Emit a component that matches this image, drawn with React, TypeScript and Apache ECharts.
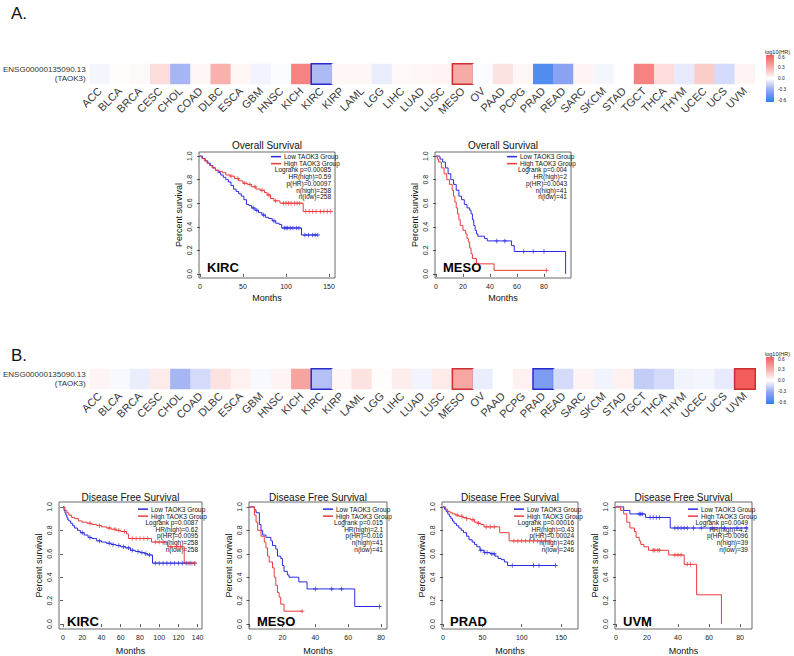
import React, { useEffect, useRef } from 'react';
import * as echarts from 'echarts';

const FONT = 'Liberation Sans, Arial, Helvetica, sans-serif';
const BLUE = '#2a2ae0';
const RED = '#ec3b3b';

// ---------- Heatmap data ----------
const cancers = ['ACC', 'BLCA', 'BRCA', 'CESC', 'CHOL', 'COAD', 'DLBC', 'ESCA', 'GBM', 'HNSC', 'KICH', 'KIRC', 'KIRP', 'LAML', 'LGG', 'LIHC', 'LUAD', 'LUSC', 'MESO', 'OV', 'PAAD', 'PCPG', 'PRAD', 'READ', 'SARC', 'SKCM', 'STAD', 'TGCT', 'THCA', 'THYM', 'UCEC', 'UCS', 'UVM'];
const geneLabel = ['ENSG00000135090.13\n(TAOK3)'];
const osLogHR = [-0.03, 0.01, 0.02, 0.12, -0.25, 0.03, 0.28, 0.03, -0.04, -0.01, 0.45, -0.23, 0.03, 0.03, -0.06, 0.02, 0.03, 0.04, 0.30, -0.01, 0.1, 0.03, -0.5, -0.33, 0.04, -0.03, 0.0, 0.45, 0.12, -0.07, 0.18, -0.12, 0.04];
const dfsLogHR = [0.04, -0.02, -0.06, 0.07, -0.25, -0.12, 0.10, 0.05, -0.02, 0.04, 0.33, -0.21, 0.03, 0.1, 0.01, 0.06, -0.04, 0.07, 0.32, -0.06, 0.0, 0.05, -0.37, -0.12, 0.04, -0.04, 0.05, -0.17, -0.12, -0.04, -0.03, -0.07, 0.62];
const osHighlighted = ['KIRC', 'MESO'];
const dfsHighlighted = ['KIRC', 'MESO', 'PRAD', 'UVM'];
const colorBarTicks = [0.6, 0.3, 0.0, -0.3, -0.6];

// ---------- Survival axes ----------
const survTicks = [0, 0.2, 0.4, 0.6, 0.8, 1.0];
const monthsTicks150 = [0, 50, 100, 150];
const monthsTicks80 = [0, 20, 40, 60, 80];
const monthsTicks140 = [0, 20, 40, 60, 80, 100, 120, 140];

// ---------- KM: KIRC overall survival ----------
const osKircLowTimes = [3, 6, 9, 12, 15, 18, 21, 24, 27, 30, 33, 36, 39, 42, 45, 48, 51, 54, 57, 60, 64, 68, 72, 76, 80, 84, 88, 92, 95, 118];
const osKircLowSurv = [0.98, 0.96, 0.94, 0.92, 0.9, 0.88, 0.86, 0.84, 0.82, 0.8, 0.78, 0.75, 0.72, 0.7, 0.68, 0.66, 0.63, 0.59, 0.58, 0.56, 0.54, 0.52, 0.5, 0.48, 0.47, 0.45, 0.43, 0.42, 0.39, 0.33];
const osKircLowCensor = [62, 66, 74, 86, 98, 100, 102, 105, 108, 112, 115, 122, 126, 131, 134, 137];
const osKircHighTimes = [2, 5, 8, 11, 14, 18, 22, 26, 30, 35, 40, 45, 50, 55, 60, 65, 70, 75, 78, 82, 86, 93, 120];
const osKircHighSurv = [0.98, 0.96, 0.94, 0.92, 0.9, 0.88, 0.87, 0.86, 0.84, 0.83, 0.81, 0.79, 0.77, 0.76, 0.74, 0.72, 0.71, 0.69, 0.67, 0.64, 0.62, 0.6, 0.53];
const osKircHighCensor = [36, 44, 52, 58, 64, 72, 80, 88, 97, 100, 103, 106, 110, 113, 116, 123, 127, 131, 135, 140, 144, 148, 152];
const osKircStats = ['Logrank p=0.00085', 'HR(high)=0.59', 'p(HR)=0.00097', 'n(high)=258', 'n(low)=258'];

// ---------- KM: MESO overall survival ----------
const osMesoLowTimes = [3, 5, 7, 9, 11, 13, 15, 17, 19, 21, 23, 25, 26, 27, 28, 29, 30, 31, 36, 38, 56, 58, 96];
const osMesoLowSurv = [0.975, 0.95, 0.9, 0.85, 0.8, 0.76, 0.71, 0.66, 0.63, 0.59, 0.56, 0.54, 0.51, 0.46, 0.41, 0.37, 0.34, 0.32, 0.3, 0.28, 0.24, 0.19, 0.0];
const osMesoLowCensor = [45, 51, 65, 72, 80];
const osMesoHighTimes = [1, 2, 4, 6, 8, 10, 12, 13, 14, 15, 16, 17, 18, 20, 22, 23, 24, 25, 26, 27, 30, 43];
const osMesoHighSurv = [0.975, 0.95, 0.9, 0.85, 0.8, 0.76, 0.71, 0.66, 0.61, 0.56, 0.51, 0.46, 0.41, 0.37, 0.34, 0.3, 0.27, 0.22, 0.17, 0.13, 0.085, 0.03];
const osMesoHighCensor = [82];
const osMesoStats = ['Logrank p=0.004', 'HR(high)=2', 'p(HR)=0.0043', 'n(high)=41', 'n(low)=41'];

// ---------- KM: KIRC disease free survival ----------
const dfsKircLowTimes = [1, 2, 3, 4, 5, 6, 8, 10, 12, 15, 18, 22, 26, 30, 35, 40, 45, 50, 55, 60, 65, 70, 75, 80, 85, 88, 93];
const dfsKircLowSurv = [0.97, 0.95, 0.93, 0.91, 0.89, 0.88, 0.86, 0.84, 0.82, 0.8, 0.78, 0.76, 0.74, 0.73, 0.71, 0.7, 0.69, 0.68, 0.67, 0.66, 0.65, 0.63, 0.62, 0.61, 0.6, 0.59, 0.52];
const dfsKircLowCensor = [20, 28, 38, 48, 52, 58, 63, 68, 72, 78, 82, 86, 90, 96, 100, 104, 108, 112, 116, 120, 124, 128, 132, 137];
const dfsKircHighTimes = [2, 4, 6, 9, 12, 16, 20, 25, 30, 35, 40, 45, 50, 55, 60, 66, 68, 92, 109, 126];
const dfsKircHighSurv = [0.97, 0.95, 0.93, 0.91, 0.9, 0.88, 0.87, 0.86, 0.85, 0.84, 0.83, 0.82, 0.81, 0.8, 0.79, 0.77, 0.73, 0.7, 0.66, 0.52];
const dfsKircHighCensor = [28, 38, 48, 54, 58, 64, 72, 76, 80, 84, 88, 96, 100, 104, 112, 118, 122, 130, 134, 137];
const dfsKircStats = ['Logrank p=0.0087', 'HR(high)=0.62', 'p(HR)=0.0095', 'n(high)=258', 'n(low)=258'];

// ---------- KM: MESO disease free survival ----------
const dfsMesoLowTimes = [3, 4, 6, 7, 8, 10, 13, 14, 16, 17, 19, 20, 21, 23, 24, 30, 35, 64];
const dfsMesoLowSurv = [0.975, 0.95, 0.85, 0.8, 0.76, 0.74, 0.71, 0.67, 0.64, 0.58, 0.56, 0.5, 0.45, 0.42, 0.4, 0.36, 0.3, 0.15];
const dfsMesoLowCensor = [40, 50, 56, 79];
const dfsMesoHighTimes = [3, 4, 5, 7, 9, 10, 11, 12, 14, 15, 16, 17, 18, 19, 21];
const dfsMesoHighSurv = [0.93, 0.87, 0.8, 0.75, 0.7, 0.65, 0.58, 0.53, 0.48, 0.4, 0.33, 0.27, 0.23, 0.17, 0.11];
const dfsMesoHighCensor = [32];
const dfsMesoStats = ['Logrank p=0.015', 'HR(high)=2.1', 'p(HR)=0.016', 'n(high)=41', 'n(low)=41'];

// ---------- KM: PRAD disease free survival ----------
const dfsPradLowTimes = [2, 4, 6, 8, 10, 12, 14, 17, 20, 23, 26, 30, 33, 37, 40, 43, 47, 52, 60, 66, 70, 74, 78, 82];
const dfsPradLowSurv = [0.98, 0.96, 0.94, 0.92, 0.9, 0.88, 0.86, 0.84, 0.82, 0.8, 0.78, 0.75, 0.72, 0.7, 0.68, 0.66, 0.63, 0.61, 0.6, 0.58, 0.56, 0.55, 0.53, 0.5];
const dfsPradLowCensor = [48, 53, 56, 62, 65, 88, 115, 122, 143];
const dfsPradHighTimes = [3, 6, 9, 12, 16, 20, 25, 30, 35, 40, 44, 48, 52, 72, 84];
const dfsPradHighSurv = [0.98, 0.96, 0.95, 0.94, 0.93, 0.92, 0.91, 0.9, 0.89, 0.87, 0.86, 0.85, 0.83, 0.78, 0.71];
const dfsPradHighCensor = [18, 24, 30, 38, 45, 55, 60, 65, 90, 95, 100, 105, 110, 115, 120, 125, 130, 136];
const dfsPradStats = ['Logrank p=0.00016', 'HR(high)=0.43', 'p(HR)=0.00024', 'n(high)=246', 'n(low)=246'];

// ---------- KM: UVM disease free survival ----------
const dfsUvmLowTimes = [5, 9, 19, 35];
const dfsUvmLowSurv = [0.97, 0.94, 0.91, 0.82];
const dfsUvmLowCensor = [15, 16, 17, 22, 24, 26, 28, 38, 40, 42, 44, 46, 50, 55, 62, 70, 78, 84];
const dfsUvmHighTimes = [3, 5, 7, 9, 12, 13, 15, 16, 18, 21, 34, 44, 52, 68];
const dfsUvmHighSurv = [0.97, 0.94, 0.87, 0.82, 0.79, 0.74, 0.71, 0.68, 0.66, 0.63, 0.59, 0.51, 0.25, 0.0];
const dfsUvmHighCensor = [24, 25, 27, 28, 38, 40, 42, 46, 48];
const dfsUvmStats = ['Logrank p=0.0049', 'HR(high)=4.2', 'p(HR)=0.0096', 'n(high)=39', 'n(low)=39'];

const groupNames = ['Low TAOK3 Group', 'High TAOK3 Group'];

// ---------- helpers ----------
function lastOf(a: number[]) { return a.length ? a[a.length - 1] : 0; }
function stepPoints(times: number[], surv: number[], censor: number[]) {
  const pts: number[][] = [[0, 1]];
  let prev = 1;
  times.forEach((t, i) => { pts.push([t, prev]); pts.push([t, surv[i]]); prev = surv[i]; });
  const end = Math.max(lastOf(times), lastOf(censor));
  if (end > lastOf(times)) pts.push([end, prev]);
  return pts;
}
function survAt(times: number[], surv: number[], t: number) {
  let s = 1;
  for (let i = 0; i < times.length; i++) if (times[i] <= t) s = surv[i];
  return s;
}
const PLUS = 'path://M4,0H6V4H10V6H6V10H4V6H0V4H4Z';

type Curve = { times: number[]; surv: number[]; censor: number[] };
type KM = {
  grid: { left: number; top: number; width: number; height: number };
  xRange: number[]; xTicks: number[]; yRange: number[];
  title: string; tag: string; stats: string[];
  low: Curve; high: Curve; first: number; titleOff: number; nameGapX: number;
};

const kmPlots: KM[] = [
  { grid: { left: 199, top: 152, width: 136, height: 126 }, xRange: [-1.2, 157], xTicks: monthsTicks150, yRange: [-0.035, 1.035],
    title: 'Overall Survival', tag: 'KIRC', stats: osKircStats, first: 4.5, titleOff: 7, nameGapX: 15,
    low: { times: osKircLowTimes, surv: osKircLowSurv, censor: osKircLowCensor },
    high: { times: osKircHighTimes, surv: osKircHighSurv, censor: osKircHighCensor } },
  { grid: { left: 435, top: 152, width: 136, height: 126 }, xRange: [-0.7, 100], xTicks: monthsTicks80, yRange: [-0.035, 1.035],
    title: 'Overall Survival', tag: 'MESO', stats: osMesoStats, first: 4.5, titleOff: 7, nameGapX: 15,
    low: { times: osMesoLowTimes, surv: osMesoLowSurv, censor: osMesoLowCensor },
    high: { times: osMesoHighTimes, surv: osMesoHighSurv, censor: osMesoHighCensor } },
  { grid: { left: 59, top: 502, width: 143, height: 130 }, xRange: [-4.2, 144.5], xTicks: monthsTicks140, yRange: [-0.042, 1.042],
    title: 'Disease Free Survival', tag: 'KIRC', stats: dfsKircStats, first: 7, titleOff: 5, nameGapX: 17,
    low: { times: dfsKircLowTimes, surv: dfsKircLowSurv, censor: dfsKircLowCensor },
    high: { times: dfsKircHighTimes, surv: dfsKircHighSurv, censor: dfsKircHighCensor } },
  { grid: { left: 249, top: 502, width: 138, height: 130 }, xRange: [-0.3, 83.6], xTicks: monthsTicks80, yRange: [-0.042, 1.042],
    title: 'Disease Free Survival', tag: 'MESO', stats: dfsMesoStats, first: 7, titleOff: 5, nameGapX: 17,
    low: { times: dfsMesoLowTimes, surv: dfsMesoLowSurv, censor: dfsMesoLowCensor },
    high: { times: dfsMesoHighTimes, surv: dfsMesoHighSurv, censor: dfsMesoHighCensor } },
  { grid: { left: 442, top: 502, width: 136, height: 130 }, xRange: [-1.3, 171.5], xTicks: monthsTicks150, yRange: [-0.042, 1.042],
    title: 'Disease Free Survival', tag: 'PRAD', stats: dfsPradStats, first: 7, titleOff: 5, nameGapX: 17,
    low: { times: dfsPradLowTimes, surv: dfsPradLowSurv, censor: dfsPradLowCensor },
    high: { times: dfsPradHighTimes, surv: dfsPradHighSurv, censor: dfsPradHighCensor } },
  { grid: { left: 615, top: 502, width: 137, height: 130 }, xRange: [-0.6, 87.7], xTicks: monthsTicks80, yRange: [-0.042, 1.042],
    title: 'Disease Free Survival', tag: 'UVM', stats: dfsUvmStats, first: 7, titleOff: 5, nameGapX: 17,
    low: { times: dfsUvmLowTimes, surv: dfsUvmLowSurv, censor: dfsUvmLowCensor },
    high: { times: dfsUvmHighTimes, surv: dfsUvmHighSurv, censor: dfsUvmHighCensor } },
];

function buildOption() {
  const heatGrids = [
    { left: 81, top: 64, width: 674, height: 20 },
    { left: 81, top: 369, width: 674, height: 20 },
  ];
  const grids: any[] = heatGrids.map((g) => ({ ...g, show: false }));
  const xAxes: any[] = [];
  const yAxes: any[] = [];
  const series: any[] = [];
  const legends: any[] = [];
  const graphics: any[] = [];

  [0, 1].forEach((gi) => {
    xAxes.push({
      gridIndex: gi, type: 'category', data: cancers,
      axisLine: { show: false }, axisTick: { show: false }, splitLine: { show: false },
      axisLabel: { rotate: 45, interval: 0, fontSize: 11, color: '#3a3a3a', margin: 5, fontFamily: FONT },
    });
    yAxes.push({
      gridIndex: gi, type: 'category', data: geneLabel,
      axisLine: { show: false }, axisTick: { show: false }, splitLine: { show: false },
      axisLabel: { fontSize: 8, lineHeight: 9, color: '#333', margin: 4, align: 'right', fontFamily: FONT },
    });
  });

  const heatSets = [
    { vals: osLogHR, hl: osHighlighted },
    { vals: dfsLogHR, hl: dfsHighlighted },
  ];
  heatSets.forEach((hs, gi) => {
    series.push({
      type: 'heatmap', xAxisIndex: gi, yAxisIndex: gi, silent: true,
      data: cancers.map((c, i) => {
        const v = hs.vals[i];
        const item: any = { value: [i, 0, v] };
        if (hs.hl.includes(c)) item.itemStyle = { borderColor: v < 0 ? '#2a2acc' : '#cc2f2f', borderWidth: 1.5 };
        return item;
      }),
    });
  });

  kmPlots.forEach((p, k) => {
    const gi = 2 + k;
    grids.push({ ...p.grid, show: true, borderColor: '#444', borderWidth: 0.8, backgroundColor: 'transparent' });
    xAxes.push({
      gridIndex: gi, type: 'value', min: p.xRange[0], max: p.xRange[1],
      axisLine: { show: false }, splitLine: { show: false },
      axisTick: { show: true, length: 3, lineStyle: { color: '#333', width: 0.8 }, customValues: p.xTicks },
      axisLabel: { fontSize: 7, color: '#222', margin: 5, customValues: p.xTicks, fontFamily: FONT },
      name: 'Months', nameLocation: 'middle', nameGap: p.nameGapX,
      nameTextStyle: { fontSize: 9, color: '#111', fontFamily: FONT },
    });
    yAxes.push({
      gridIndex: gi, type: 'value', min: p.yRange[0], max: p.yRange[1],
      axisLine: { show: false }, splitLine: { show: false },
      axisTick: { show: true, length: 3, lineStyle: { color: '#333', width: 0.8 }, customValues: survTicks },
      axisLabel: { fontSize: 7, color: '#222', margin: 6, rotate: 90, customValues: survTicks,
        formatter: (v: number) => v.toFixed(1), fontFamily: FONT },
      name: 'Percent survival', nameLocation: 'middle', nameGap: 16,
      nameTextStyle: { fontSize: 9, color: '#111', fontFamily: FONT },
    });
    const curves: [Curve, string, string][] = [[p.low, BLUE, groupNames[0]], [p.high, RED, groupNames[1]]];
    curves.forEach(([c, col, nm]) => {
      series.push({
        type: 'line', name: nm, xAxisIndex: gi, yAxisIndex: gi, silent: true,
        data: stepPoints(c.times, c.surv, c.censor), showSymbol: false, symbol: 'none',
        lineStyle: { color: col, width: 1 }, itemStyle: { color: col }, z: 3,
      });
      series.push({
        type: 'scatter', name: nm + ' censored', xAxisIndex: gi, yAxisIndex: gi, silent: true,
        data: c.censor.map((t) => [t, survAt(c.times, c.surv, t)]),
        symbol: PLUS, symbolSize: 4.5, itemStyle: { color: col }, z: 4,
      });
    });
    const right = p.grid.left + p.grid.width;
    const line0 = p.grid.top + p.first;
    const step = 6.7;
    legends.push({
      left: right - 64, top: line0 - step / 2, orient: 'vertical', padding: 0, itemGap: 0,
      itemWidth: 10, itemHeight: 1.5, icon: 'rect', selectedMode: false,
      textStyle: { fontSize: 6.5, lineHeight: step, color: '#111', fontFamily: FONT, padding: [0, 0, 0, -2] },
      data: groupNames,
    });
    p.stats.forEach((s, i) => {
      graphics.push({
        type: 'text', x: right - 4, y: line0 + step * (i + 2), silent: true,
        style: { text: s, align: 'right', verticalAlign: 'middle', fontSize: 6.5, fontFamily: FONT, fill: '#111' },
      });
    });
    graphics.push({
      type: 'text', x: p.grid.left + p.grid.width / 2, y: p.grid.top - p.titleOff, silent: true,
      style: { text: p.title, align: 'center', verticalAlign: 'middle', fontSize: 10, fontFamily: FONT, fill: '#111' },
    });
    graphics.push({
      type: 'text', x: p.grid.left + 8, y: p.grid.top + p.grid.height - 11, silent: true,
      style: { text: p.tag, align: 'left', verticalAlign: 'middle', fontSize: 13, fontWeight: 'bold', fontFamily: FONT, fill: '#000' },
    });
  });

  // colour bars
  const barTops = [55, 357];
  barTops.forEach((bt) => {
    graphics.push({
      type: 'rect', shape: { x: 766, y: bt, width: 8, height: 47 }, silent: true,
      style: {
        fill: new echarts.graphic.LinearGradient(0, 0, 0, 1, [
          { offset: 0, color: '#f55c5c' }, { offset: 0.25, color: '#f7aba7' },
          { offset: 0.5, color: '#ffffff' }, { offset: 0.75, color: '#94a6f2' }, { offset: 1, color: '#2f7fef' },
        ]),
      },
    });
    graphics.push({
      type: 'text', x: 765, y: bt - 3, silent: true,
      style: { text: 'log10(HR)', align: 'left', verticalAlign: 'middle', fontSize: 5.5, fontFamily: FONT, fill: '#222' },
    });
    colorBarTicks.forEach((v) => {
      graphics.push({
        type: 'text', x: 778, y: bt + 2 + ((0.6 - v) / 1.2) * 43, silent: true,
        style: { text: v.toFixed(1), align: 'left', verticalAlign: 'middle', fontSize: 4.8, fontFamily: FONT, fill: '#222' },
      });
    });
  });

  graphics.push({ type: 'text', x: 11, y: 13, silent: true, style: { text: 'A.', fontSize: 17, fontFamily: FONT, fill: '#111', verticalAlign: 'middle' } });
  graphics.push({ type: 'text', x: 11, y: 355, silent: true, style: { text: 'B.', fontSize: 17, fontFamily: FONT, fill: '#111', verticalAlign: 'middle' } });

  return {
    animation: false,
    textStyle: { fontFamily: FONT },
    grid: grids,
    xAxis: xAxes,
    yAxis: yAxes,
    visualMap: [0, 1].map((si) => ({
      show: false, type: 'continuous', seriesIndex: si, dimension: 2, min: -0.6, max: 0.6,
      inRange: { color: ['#2f7fef', '#94a6f2', '#ffffff', '#f7aba7', '#f55c5c'] },
    })),
    legend: legends,
    series,
    graphic: graphics,
  };
}

export default function App() {
  const ref = useRef<HTMLDivElement>(null);
  useEffect(() => {
    if (!ref.current) return;
    const chart = echarts.init(ref.current, undefined, { renderer: 'svg' });
    chart.setOption(buildOption() as any);
    return () => chart.dispose();
  }, []);
  return <div ref={ref} style={{ position: 'absolute', left: 0, top: 0, width: 794, height: 656, background: '#fff' }} />;
}
